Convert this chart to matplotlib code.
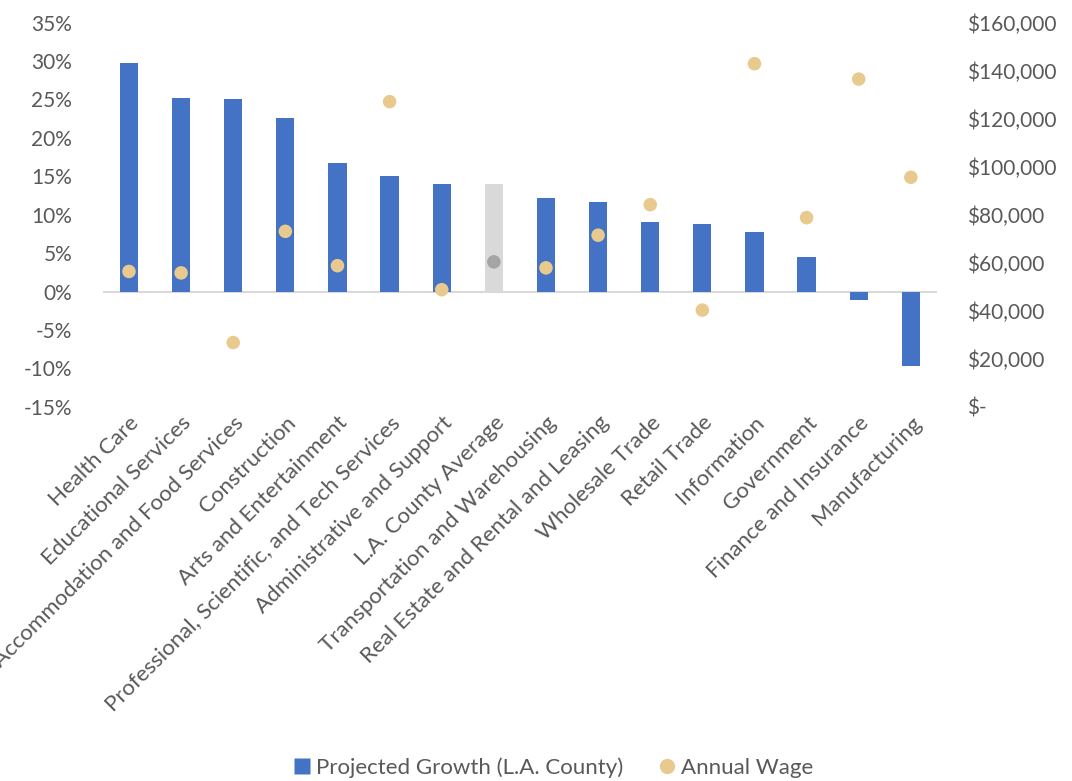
import matplotlib.pyplot as plt
from matplotlib.lines import Line2D
from matplotlib.ticker import FuncFormatter
import numpy as np

plt.rcParams['font.family'] = ['Lato', 'DejaVu Sans']

industries = ["Health Care", "Educational Services", "Accommodation and Food Services",
              "Construction", "Arts and Entertainment",
              "Professional, Scientific, and Tech Services", "Administrative and Support",
              "L.A. County Average", "Transportation and Warehousing",
              "Real Estate and Rental and Leasing", "Wholesale Trade", "Retail Trade",
              "Information", "Government", "Finance and Insurance", "Manufacturing"]
growth = [29.7, 25.2, 25.0, 22.6, 16.7, 15.0, 14.0, 14.0, 12.2, 11.7, 9.0, 8.8,
          7.8, 4.5, -1.1, -9.7]
wage = [56400, 55800, 26800, 73100, 58800, 127100, 48800, 60400, 57900, 71500,
        84200, 40300, 142900, 78800, 136500, 95600]
avg_name = "L.A. County Average"

blue = '#4472C4'
tan = '#E9CA8E'
txt = '#595959'

fig = plt.figure(figsize=(10.72, 7.81), dpi=100)
ax = fig.add_axes([0.096, 0.479, 0.778, 0.492])
ax2 = ax.twinx()

x = np.arange(len(industries))
is_avg = [n == avg_name for n in industries]
bar_cols = ['#D9D9D9' if a else blue for a in is_avg]
dot_cols = ['#A5A5A5' if a else tan for a in is_avg]

ax.bar(x, growth, width=0.35, color=bar_cols, zorder=2)
ax.axhline(0, color='#D9D9D9', lw=1.5, zorder=1)
ax2.scatter(x, wage, s=95, color=dot_cols, zorder=3, edgecolors='none')

ax.set_xlim(-0.5, len(industries) - 0.5)
ax.set_ylim(-15, 35)
ax.set_yticks(range(-15, 36, 5))
ax.yaxis.set_major_formatter(FuncFormatter(lambda v, p: f"{int(v)}%"))
ax2.set_ylim(0, 160000)
ax2.set_yticks(range(0, 160001, 20000))
ax2.yaxis.set_major_formatter(FuncFormatter(lambda v, p: "$-" if v == 0 else f"${int(v):,}"))

ax.set_xticks(x)
ax.set_xticklabels(industries, rotation=45, ha='right', rotation_mode='anchor')

for a in (ax, ax2):
    for s in a.spines.values():
        s.set_visible(False)
    a.tick_params(length=0, labelsize=15, labelcolor=txt)
ax.tick_params(axis='y', pad=22)
ax2.tick_params(axis='y', pad=22)
ax.tick_params(axis='x', pad=4, labelsize=16)

handles = [Line2D([], [], marker='s', color='none', markerfacecolor=blue,
                  markeredgecolor='none', markersize=11, label='Projected Growth (L.A. County)'),
           Line2D([], [], marker='o', color='none', markerfacecolor=tan,
                  markeredgecolor='none', markersize=11, label='Annual Wage')]
leg = fig.legend(handles=handles, loc='center', bbox_to_anchor=(0.515, 0.017), ncol=2,
                 frameon=False, fontsize=16, handletextpad=0.1, columnspacing=1.5,
                 handlelength=1.0)
for t in leg.get_texts():
    t.set_color(txt)

fig.savefig('out.png', dpi=100)
